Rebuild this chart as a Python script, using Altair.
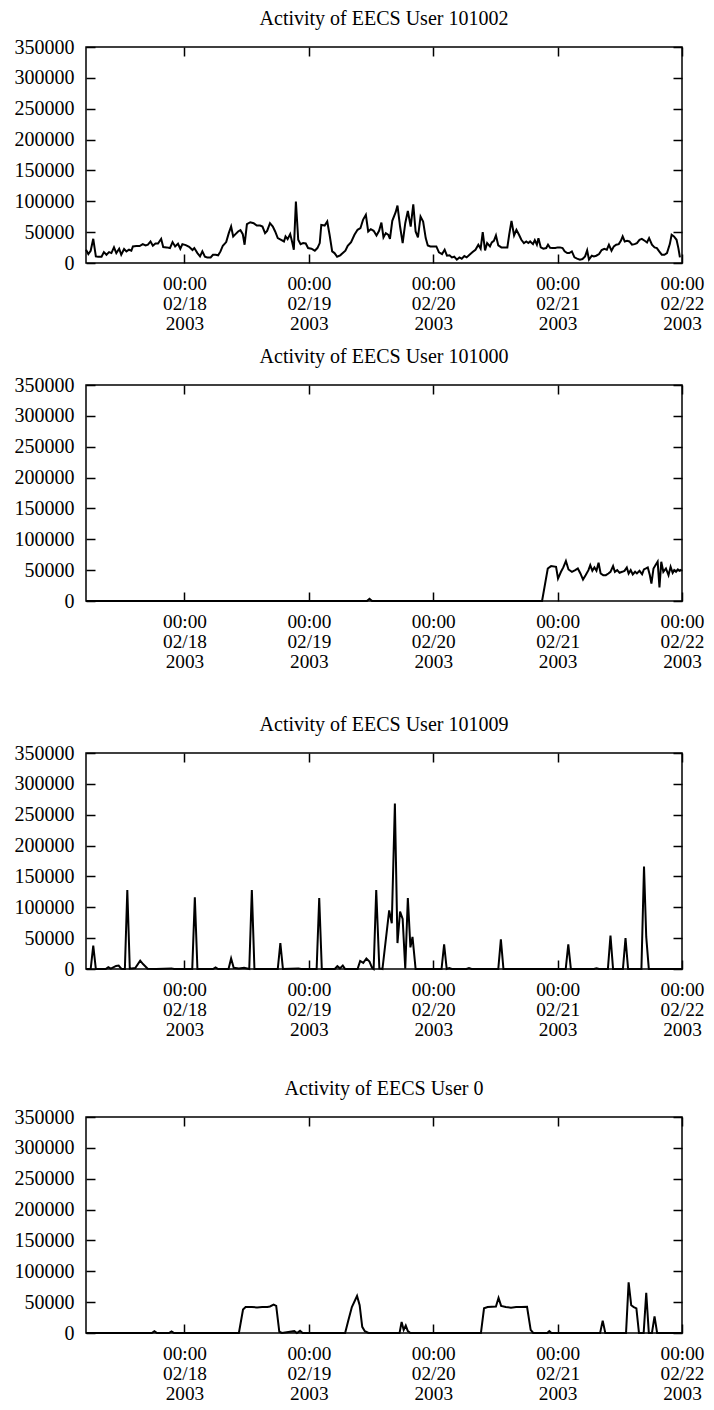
import altair as alt
import pandas as pd

FONT = "Liberation Serif"
FS = 20
XFS = 19.3

titles = ["Activity of EECS User 101002", "Activity of EECS User 101000",
          "Activity of EECS User 101009", "Activity of EECS User 0"]
day_ticks = [24, 48, 72, 96, 120]          # hours after 02/17 00:00
y_ticks = [0, 50000, 100000, 150000, 200000, 250000, 300000, 350000]

# ---- User 101002 (hours after 02/17 00:00, activity) ----
h_101002 = [5.0, 5.45, 5.9, 6.4, 6.9, 7.35, 8.0, 8.45, 8.95, 9.45, 9.9, 10.4, 10.85, 11.4, 11.8, 12.35, 12.8, 13.3, 13.75, 14.05,
            14.7, 15.35, 15.95, 16.5, 16.95, 17.45, 17.9, 18.4, 18.9, 19.5, 19.9, 20.55, 21.2, 21.7, 22.2, 22.75, 23.2, 23.6, 24.25, 24.9,
            25.55, 25.9, 26.5, 27.0, 27.45, 27.95, 28.4, 29.05, 29.5, 30.0, 30.5, 30.95, 31.4, 32.05, 32.55, 33.0, 33.4, 33.85, 34.35, 34.8,
            35.25, 35.6, 36.05, 36.7, 37.35, 37.95, 38.6, 39.05, 39.55, 39.95, 40.5, 41.05, 41.5, 42.0, 42.65, 43.2, 43.5, 43.9, 44.4, 44.8,
            45.1, 45.5, 45.95, 46.4, 46.9, 47.4, 47.85, 48.5, 49.15, 49.65, 50.1, 50.4, 51.05, 51.55, 52.0, 52.5, 52.95, 53.45, 54.05, 54.55,
            55.05, 55.5, 56.15, 56.8, 57.4, 57.95, 58.45, 59.0, 59.45, 59.95, 60.5, 61.05, 61.55, 62.0, 62.4, 62.85, 63.35, 63.65, 64.1, 64.75,
            65.1, 65.6, 66.1, 66.6, 67.1, 67.65, 68.15, 68.6, 69.05, 69.55, 70.05, 70.55, 70.95, 71.45, 72.1, 72.6, 73.1, 73.7, 74.2, 74.65,
            75.15, 75.6, 76.05, 76.55, 77.05, 77.5, 78.0, 78.45, 79.0, 79.6, 80.15, 80.7, 81.15, 81.55, 82.0, 82.4, 82.95, 83.3, 83.7, 84.1,
            84.55, 85.15, 85.8, 86.3, 86.65, 87.1, 87.6, 88.05, 88.55, 89.0, 89.5, 89.95, 90.35, 90.7, 91.25, 91.6, 92.0, 92.3, 92.75, 93.25,
            93.8, 94.15, 94.55, 95.05, 95.55, 96.0, 96.45, 96.95, 97.35, 97.85, 98.25, 98.75, 99.25, 99.75, 100.3, 100.8, 101.3, 101.7, 102.05, 102.6,
            103.0, 103.45, 104.0, 104.5, 105.0, 105.5, 105.9, 106.4, 106.85, 107.3, 107.8, 108.2, 108.55, 108.95, 109.4, 109.85, 110.35, 110.85, 111.3, 111.8,
            112.25, 112.8, 113.25, 113.65, 114.2, 114.7, 115.15, 115.6, 116.1, 116.6, 117.1, 117.65, 118.0, 118.45, 118.95, 119.3, 119.6]
v_101002 = [21500, 14500, 19900, 39200, 10750, 10200, 10200, 17700, 13400, 17700, 16100, 25300, 16100, 23100, 13400, 22600, 18800, 21500, 19900, 26900,
            27400, 27400, 30600, 28500, 29600, 34900, 28000, 31700, 31700, 39200, 25800, 25300, 24200, 33900, 26900, 31200, 23100, 30600, 29000, 26300,
            21000, 24200, 16100, 10750, 18800, 10200, 9100, 9100, 13400, 13400, 12400, 18800, 28000, 33900, 48400, 59100, 43000, 46800, 51100, 53200,
            46800, 29600, 62900, 66100, 64500, 60700, 60700, 59100, 48400, 52100, 64500, 59100, 51100, 40300, 37600, 34900, 43000, 38700, 46800, 33300,
            21500, 99500, 37600, 30600, 32300, 31700, 24200, 23100, 19900, 24200, 32300, 61800, 60700, 67200, 45700, 18800, 16100, 10200, 12400, 16100,
            19900, 28000, 33900, 45700, 53800, 56400, 69900, 78000, 51100, 54800, 52100, 44600, 52100, 65600, 41400, 48400, 45700, 39200, 68300, 82300,
            93000, 59100, 32300, 64500, 84400, 59100, 95200, 51100, 41400, 75300, 67200, 40300, 28500, 26900, 26900, 26900, 17200, 14500, 21500, 11800,
            12400, 9100, 10200, 5400, 9100, 7000, 11300, 9100, 13400, 17700, 21500, 29600, 23100, 50000, 20400, 32300, 26900, 33300, 36000, 44600,
            28500, 25300, 25300, 25300, 45700, 68300, 44600, 53800, 45700, 37600, 32300, 34900, 32300, 34900, 30600, 37100, 29600, 40300, 25300, 23100,
            24200, 29600, 24700, 24200, 24200, 25300, 25300, 24200, 18800, 16100, 16100, 18800, 9100, 7000, 5400, 6500, 10750, 20400, 5400, 11800,
            10750, 11800, 14500, 21000, 23100, 21500, 29600, 19900, 26900, 29600, 30600, 36000, 43000, 34900, 36000, 34900, 29600, 30600, 32300, 37600,
            39200, 36000, 33300, 40300, 29600, 25300, 24200, 18800, 13400, 13400, 16100, 30600, 45700, 43000, 37600, 24200, 9100]

# ---- User 101000 ----
h_101000 = [5.0, 59.2, 59.7, 60.2, 93.0, 94.1, 94.74, 95.7, 96.08, 96.65, 97.1, 97.6, 98.1, 98.76, 99.4, 99.9, 100.4, 100.9, 101.4, 101.95,
            102.3, 102.7, 103.1, 103.5, 103.9, 104.3, 104.8, 105.3, 105.8, 106.2, 106.7, 107.05, 107.5, 107.95, 108.45, 108.9, 109.35, 109.7, 110.1, 110.5,
            110.95, 111.3, 111.8, 112.3, 112.65, 113.05, 113.4, 113.8, 114.1, 114.5, 114.9, 115.3, 115.65, 116.0, 116.4, 116.9, 117.4, 117.8, 118.2, 118.5,
            118.85, 119.2, 119.55, 119.9]
v_101000 = [0, 0, 3500, 0, 0, 52700, 56500, 55400, 36400, 47300, 54400, 64700, 51100, 47300, 50000, 52700, 44600, 34800, 41800, 50000,
            58200, 48900, 54400, 48900, 62000, 44600, 41800, 41800, 44600, 47300, 56500, 47300, 50000, 45700, 47300, 48900, 54400, 44600, 50000, 42900,
            47300, 44600, 48900, 43500, 51100, 52700, 54400, 41800, 28300, 52700, 58200, 63600, 22000, 63600, 47300, 52700, 41800, 55400, 45700, 50000,
            47300, 51100, 48900, 51100]

# ---- User 101009 ----
h_101009 = [5.0, 5.9, 6.4, 6.9, 8.8, 9.3, 9.8, 10.8, 11.3, 11.8, 12.5, 12.97, 13.45, 14.5, 15.46, 16.0, 16.9, 18.5, 21.5, 22.0,
            25.5, 26.0, 26.5, 29.5, 30.0, 30.5, 32.5, 33.0, 33.5, 34.5, 35.5, 36.5, 37.0, 37.5, 42.0, 42.5, 43.0, 46.0, 46.5, 49.5,
            50.0, 50.5, 53.0, 53.5, 54.0, 54.55, 55.0, 57.4, 57.9, 58.5, 59.1, 59.7, 60.2, 60.5, 61.0, 61.6, 62.2, 63.5, 64.0, 64.6,
            65.1, 65.6, 66.1, 66.6, 67.1, 67.6, 68.0, 68.6, 73.6, 74.1, 74.6, 75.1, 75.6, 78.4, 78.9, 79.4, 84.55, 85.05, 85.55, 97.56,
            98.06, 98.56, 103.0, 103.5, 104.0, 105.7, 106.2, 106.7, 108.6, 109.1, 109.6, 112.17, 112.67, 113.1, 113.6, 120.0]
v_101009 = [0, 0, 38000, 0, 0, 3000, 500, 5000, 5500, 500, 0, 128000, 500, 1500, 13500, 8000, 500, 0, 1000, 0,
            0, 116000, 0, 0, 2500, 0, 0, 17000, 2000, 1000, 2000, 0, 128000, 0, 0, 42000, 0, 1000, 0, 0,
            115000, 0, 0, 4500, 1000, 5500, 0, 0, 13000, 10000, 17000, 12000, 2000, 0, 128000, 1000, 0, 95000, 74000, 268000,
            42000, 93000, 81000, 500, 115000, 35000, 52000, 0, 0, 40000, 0, 1500, 0, 0, 1500, 0, 0, 48000, 0, 0,
            40000, 0, 0, 1200, 0, 0, 54000, 0, 0, 50000, 0, 0, 166000, 52000, 0, 0]

# ---- User 0 ----
h_0 = [5.0, 17.7, 18.2, 18.7, 21.0, 21.5, 22.0, 34.5, 35.3, 35.8, 37.0, 38.0, 39.0, 40.0, 40.5, 41.2, 41.7, 42.3, 42.8, 45.2,
       45.7, 46.3, 46.8, 55.0, 55.6, 56.3, 57.3, 57.8, 58.3, 58.8, 59.5, 65.5, 65.9, 66.3, 66.7, 67.1, 67.6, 81.2, 81.8, 82.5,
       84.1, 84.6, 85.1, 86.0, 87.0, 88.0, 89.0, 90.1, 90.8, 91.3, 94.0, 94.4, 94.8, 104.2, 104.7, 105.2, 109.2, 109.7, 110.2, 110.7,
       111.2, 111.7, 112.6, 113.1, 113.6, 114.2, 114.7, 115.2, 120.0]
v_0 = [0, 0, 3000, 0, 0, 2500, 0, 0, 38000, 42000, 42000, 41500, 42000, 42000, 43000, 46000, 44000, 2000, 0, 3000,
       0, 3500, 0, 0, 20000, 42000, 60000, 45000, 10000, 3000, 0, 0, 18000, 5000, 12000, 3000, 0, 0, 40000, 42000,
       43000, 57000, 44000, 42000, 41000, 42000, 42000, 42500, 5000, 0, 0, 3000, 0, 0, 20000, 0, 0, 82000, 45000, 42000,
       40000, 0, 0, 65000, 0, 0, 27000, 0, 0]

W, H = 596, 216
TICK = 9
x_scale = alt.Scale(domain=[5, 120], nice=False, zero=False)
y_scale = alt.Scale(domain=[0, 350000], nice=False)

common = dict(title=None, grid=False, domain=False, offset=-TICK, tickSize=TICK,
              tickWidth=1.5, tickColor="black", labelOverlap=False, labelFlush=False)


def panel(hours, values, title):
    df = pd.DataFrame({"hour": hours, "activity": values})
    base = alt.Chart(df)
    main = base.mark_line(color="black", strokeWidth=2).encode(
        x=alt.X("hour:Q", scale=x_scale, axis=alt.Axis(
            orient="bottom", values=day_ticks,
            labelExpr="['00:00', '02/' + (17 + datum.value / 24), '2003']",
            labelFont=FONT, labelFontSize=XFS, labelColor="black", labelAlign="center",
            labelBaseline="top", labelLineHeight=20, labelPadding=11, **common)),
        y=alt.Y("activity:Q", scale=y_scale, axis=alt.Axis(
            orient="left", values=y_ticks, format="d",
            labelFont=FONT, labelFontSize=FS, labelColor="black", labelPadding=12, **common)),
    )
    mirror = base.mark_line(strokeOpacity=0).encode(
        x=alt.X("hour:Q", scale=x_scale, axis=alt.Axis(orient="top", values=day_ticks, labels=False, **common)),
        y=alt.Y("activity:Q", scale=y_scale, axis=alt.Axis(orient="right", values=y_ticks, labels=False, **common)),
    )
    return alt.layer(main, mirror, title=alt.Title(
        title, font=FONT, fontSize=FS, fontWeight="normal", color="black",
        anchor="middle", frame="group", offset=8)
    ).resolve_axis(x="independent", y="independent").properties(width=W, height=H)


p1 = panel(h_101002, v_101002, titles[0])
p2 = panel(h_101000, v_101000, titles[1])
p3 = panel(h_101009, v_101009, titles[2])
p4 = panel(h_0, v_0, titles[3])

chart = alt.vconcat(
    alt.vconcat(p1, p2, spacing=11),
    alt.vconcat(p3, p4, spacing=37),
    spacing=41,
).properties(
    padding={"left": 5, "top": 0, "right": 0, "bottom": -3},
    background="white",
).configure_view(stroke="black", strokeWidth=1.5)

chart.save("out.html", embed_options={"renderer": "svg", "actions": False})
